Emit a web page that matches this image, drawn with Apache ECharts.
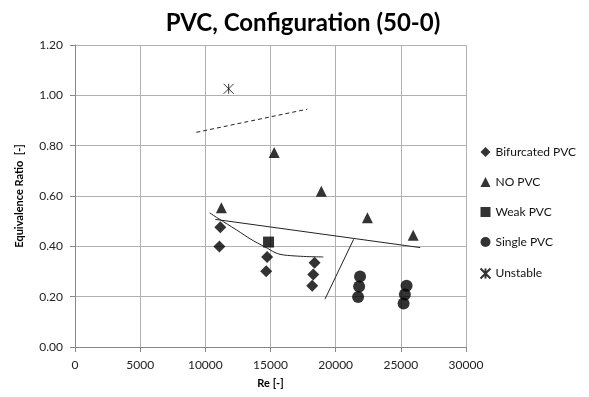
<!DOCTYPE html>
<html><head><meta charset="utf-8">
<script src="https://cdn.jsdelivr.net/npm/echarts@6/dist/echarts.min.js"></script>
<style>html,body{margin:0;padding:0;background:#fff}#c{width:589px;height:397px}</style>
</head><body><div id="c"></div>
<script>
const bifurcated = [[11150,0.476],[11080,0.399],[14740,0.358],[14670,0.301],[18380,0.335],[18280,0.288],[18200,0.243]];
const noPVC = [[11230,0.553],[15285,0.773],[18900,0.619],[22440,0.514],[25950,0.444]];
const weakPVC = [[14850,0.417]];
const singlePVC = [[21870,0.280],[21800,0.240],[21720,0.199],[25440,0.243],[25310,0.209],[25210,0.173]];
const unstable = [[11790,1.026]];
const dashedLine = [[9310,0.853],[17820,0.945]];
const longLine = [[10770,0.507],[26490,0.395]];
const steepLine = [[19180,0.190],[21380,0.428]];
const curveLine = [[10330,0.533],[12000,0.478],[14450,0.401],[16300,0.364],[19050,0.358]];
const legendNames = ['Bifurcated PVC','NO PVC','Weak PVC','Single PVC','Unstable'];

const font = 'Lato, "Open Sans", sans-serif';
const star = 'path://M0,0 L10,10 M10,0 L0,10 M5,0 L5,10';
const chart = echarts.init(document.getElementById('c'));
const lineStyle = {color:'#222', width:1};
chart.setOption({
  animation:false,
  title:{text:'PVC, Configuration (50-0)', left:298, top:6, textAlign:'center',
    textStyle:{fontFamily:font, fontWeight:'bold', fontSize:24, color:'#000'}},
  grid:{left:75, right:123, top:45, bottom:50},
  legend:{data:legendNames, orient:'vertical', left:473, top:141, itemGap:18, itemWidth:10, itemHeight:10,
    textStyle:{fontFamily:font, fontSize:12, color:'#111'}},
  xAxis:{type:'value', min:0, max:30000, interval:5000, name:'Re [-]', nameLocation:'middle', nameGap:31,
    nameTextStyle:{fontFamily:font, fontWeight:'bold', fontSize:11, color:'#000'},
    axisLine:{lineStyle:{color:'#888'}}, axisTick:{show:true, length:5, lineStyle:{color:'#888'}},
    splitLine:{lineStyle:{color:'#b0b0b0'}},
    axisLabel:{fontFamily:font, fontSize:12, color:'#222', margin:12, formatter:v=>String(v)}},
  yAxis:{type:'value', min:0, max:1.2, interval:0.2, name:'Equivalence Ratio  [-]', nameLocation:'middle', nameGap:50,
    nameTextStyle:{fontFamily:font, fontWeight:'bold', fontSize:11, color:'#000'},
    axisLine:{show:true, lineStyle:{color:'#888'}}, axisTick:{show:true, length:5, lineStyle:{color:'#888'}},
    splitLine:{lineStyle:{color:'#b0b0b0'}},
    axisLabel:{fontFamily:font, fontSize:12, color:'#222', margin:12, formatter:v=>v.toFixed(2)}},
  series:[
    {name:'Bifurcated PVC', type:'scatter', data:bifurcated, symbol:'diamond', symbolSize:12, itemStyle:{color:'#000'}},
    {name:'NO PVC', type:'scatter', data:noPVC, symbol:'triangle', symbolSize:11, itemStyle:{color:'#000'}},
    {name:'Weak PVC', type:'scatter', data:weakPVC, symbol:'rect', symbolSize:11, itemStyle:{color:'#000'}},
    {name:'Single PVC', type:'scatter', data:singlePVC, symbol:'circle', symbolSize:12, itemStyle:{color:'#000'}},
    {name:'Unstable', type:'scatter', data:unstable, symbol:star, symbolSize:10, itemStyle:{color:'none', borderColor:'#000', borderWidth:1}},
    {name:'dash', type:'line', data:dashedLine, symbol:'none', lineStyle:{color:'#222', width:1, type:[4,3]}},
    {name:'long', type:'line', data:longLine, symbol:'none', lineStyle:lineStyle},
    {name:'steep', type:'line', data:steepLine, symbol:'none', lineStyle:lineStyle},
    {name:'curve', type:'line', data:curveLine, symbol:'none', smooth:0.5, lineStyle:lineStyle}
  ]
});
</script></body></html>
